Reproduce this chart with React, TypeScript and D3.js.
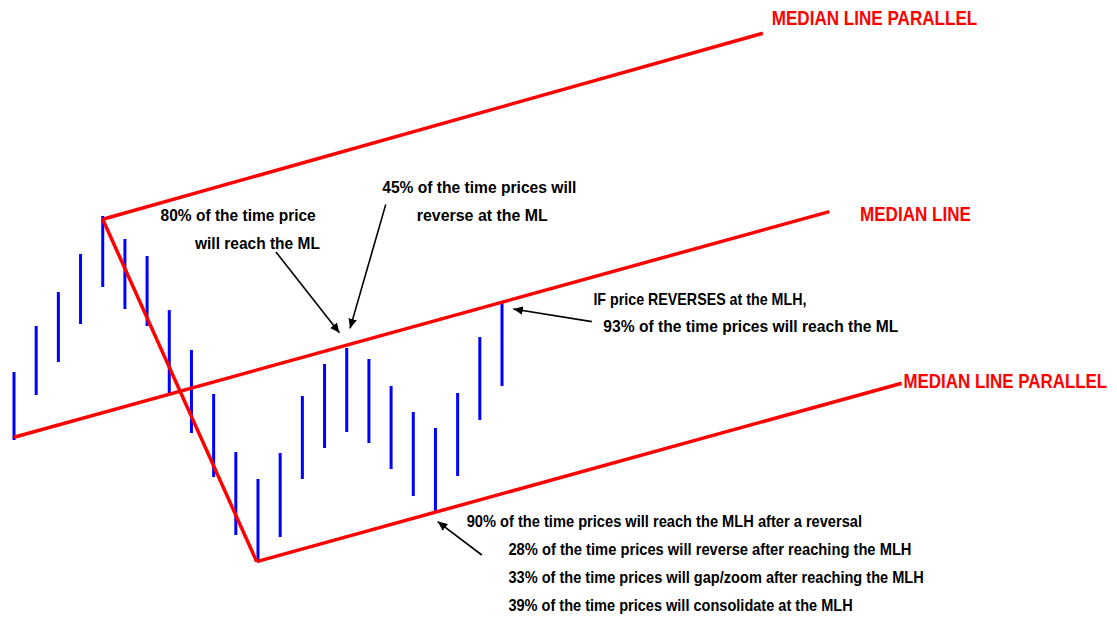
import React, { useLayoutEffect, useRef } from "react";
import * as d3 from "d3";

// Bar index (0..22) and price (arbitrary units)
const barIndex = [0, 1, 2, 3, 4, 5, 6, 7, 8, 9, 10, 11, 12, 13, 14, 15, 16, 17, 18, 19, 20, 21, 22];
const highs = [57, 68.5, 77, 86.5, 96, 90.25, 86, 72.5, 62.5, 51.5, 37, 30.25, 36.75, 51, 59, 63, 60.25, 53.5, 47, 43, 51.75, 65.75, 74.5];
const lows = [40, 51.25, 59.5, 69, 78.25, 72.75, 68.5, 51.75, 41.75, 30.75, 16.25, 9.5, 15.75, 30.25, 38, 42, 39.25, 32.75, 26, 22, 31, 45, 53.5];

// Pitchfork segments: [startIndex, startPrice, endIndex, endPrice]
const pitchforkNames = ["Upper parallel", "Median line", "Lower parallel", "Swing"];
const pitchforkSegments: [number, number, number, number][] = [
  [4, 95.2, 33.76, 141.7],
  [0, 40.7, 36.76, 97.1],
  [10.94, 9.6, 40.02, 54.2],
  [4, 95.2, 10.94, 9.6],
];

// Line labels
const lineLabels = ["MEDIAN LINE PARALLEL", "MEDIAN LINE", "MEDIAN LINE PARALLEL"];
const lineLabelAnchors: [number, number][] = [
  [34.16, 143.75],
  [38.14, 94.75],
  [40.1, 52.9],
];
const lineLabelWidths = [206, 111, 204];

// Annotation texts
const notes = [
  "80% of the time price",
  "will reach the ML",
  "45% of the time prices will",
  "reverse at the ML",
  "IF price REVERSES at the MLH,",
  "93% of the time prices will reach the ML",
  "90% of the time prices will reach the MLH after a reversal",
  "28% of the time prices will reverse after reaching the MLH",
  "33% of the time prices will gap/zoom after reaching the MLH",
  "39% of the time prices will consolidate at the MLH",
];
const noteAnchors: [number, number][] = [
  [6.61, 94.8],
  [8.16, 87.75],
  [16.6, 101.7],
  [18.16, 94.8],
  [26.12, 73.75],
  [26.57, 67.1],
  [20.41, 18.2],
  [22.29, 11.25],
  [22.29, 4.2],
  [22.29, -2.7],
];
const noteWidths = [155, 126, 194, 131, 213, 295, 395, 403, 415, 344];

// Arrows: [tailIndex, tailPrice, headIndex, headPrice]
const arrows: [number, number, number, number][] = [
  [11.81, 87, 14.67, 66.8],
  [16.76, 98.9, 15.15, 67.9],
  [26.05, 69.6, 22.51, 72.75],
  [21.09, 11.25, 19.1, 19.6],
];

const W = 1117;
const H = 620;

function FitText(props: {
  x: number;
  y: number;
  width: number;
  text: string;
}) {
  const ref = useRef<SVGTextElement>(null);
  useLayoutEffect(() => {
    const el = ref.current;
    if (!el) return;
    const w = el.getBBox().width || props.width;
    const sx = props.width / w;
    el.setAttribute(
      "transform",
      `translate(${props.x},${props.y}) scale(${sx},1)`
    );
  }, [props.x, props.y, props.width, props.text]);
  return (
    <text ref={ref} x={0} y={0} transform={`translate(${props.x},${props.y}) scale(0.8,1)`}>
      {props.text}
    </text>
  );
}

export default function App() {
  const x = d3.scaleLinear().domain([0, 22]).range([14, 502]);
  const y = d3.scaleLinear().domain([0, 150]).range([600, 0]);
  const line = d3
    .line<[number, number]>()
    .x((d) => x(d[0]))
    .y((d) => y(d[1]));

  const font =
    "'Liberation Sans Narrow', 'Arial Narrow', 'Liberation Sans', Arial, Helvetica, sans-serif";

  return (
    <svg
      width={W}
      height={H}
      style={{ position: "absolute", left: 0, top: 0, background: "#fff" }}
    >
      <defs>
        <marker
          id="ah"
          viewBox="0 0 10 10"
          refX="10"
          refY="5"
          markerWidth="6"
          markerHeight="6"
          markerUnits="strokeWidth"
          orient="auto"
        >
          <path d="M0,0.5 L10,5 L0,9.5 Z" fill="#000" />
        </marker>
      </defs>
      <rect width={W} height={H} fill="#fff" />

      {/* price bars */}
      <g>
        {barIndex.map((i) => (
          <line
            key={i}
            x1={x(i)}
            x2={x(i)}
            y1={y(highs[i])}
            y2={y(lows[i])}
            stroke="#0000ff"
            strokeWidth={3}
          />
        ))}
      </g>

      {/* pitchfork */}
      <g>
        {pitchforkSegments.map((s, k) => (
          <path
            key={pitchforkNames[k]}
            d={line([
              [s[0], s[1]],
              [s[2], s[3]],
            ]) || ""}
            stroke="#ff0000"
            strokeWidth={3.5}
            fill="none"
            strokeLinejoin="miter"
          />
        ))}
      </g>

      {/* arrows */}
      <g>
        {arrows.map((a, k) => (
          <line
            key={k}
            x1={x(a[0])}
            y1={y(a[1])}
            x2={x(a[2])}
            y2={y(a[3])}
            stroke="#000"
            strokeWidth={1.6}
            markerEnd="url(#ah)"
          />
        ))}
      </g>

      {/* line labels */}
      <g fontFamily={font} fontWeight="bold" fontSize={21} fill="#ff0000">
        {lineLabels.map((t, k) => (
          <FitText
            key={k}
            x={x(lineLabelAnchors[k][0])}
            y={y(lineLabelAnchors[k][1])}
            width={lineLabelWidths[k]}
            text={t}
          />
        ))}
      </g>

      {/* notes */}
      <g fontFamily={font} fontWeight="bold" fontSize={16} fill="#000">
        {notes.map((t, k) => (
          <FitText
            key={k}
            x={x(noteAnchors[k][0])}
            y={y(noteAnchors[k][1])}
            width={noteWidths[k]}
            text={t}
          />
        ))}
      </g>
    </svg>
  );
}
